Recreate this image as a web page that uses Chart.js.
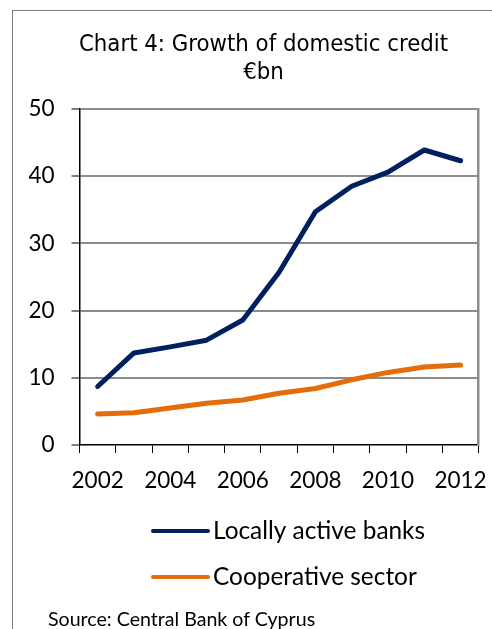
<!DOCTYPE html>
<html>
<head>
<meta charset="utf-8">
<script src="https://cdn.jsdelivr.net/npm/chart.js@4/dist/chart.umd.min.js"></script>
<style>
  html, body { margin: 0; padding: 0; background: #fff; overflow: hidden; }
  #wrap { position: relative; width: 492px; height: 629px; overflow: hidden; }
  #frame { position: absolute; left: 12px; top: 10px; width: 700px; height: 800px;
           border: 1px solid #7f7f7f; box-sizing: border-box; }
  #chart { position: absolute; left: 0; top: 0; }
  #source { position: absolute; left: 48px; top: 607px; font-family: Lato, sans-serif;
            font-size: 19.6px; color: #000; white-space: nowrap; }
</style>
</head>
<body>
<div id="wrap">
  <div id="frame"></div>
  <canvas id="chart" width="527" height="629"></canvas>
  <div id="source">Source: Central Bank of Cyprus</div>
</div>
<script>
// Domestic credit, € billion, end of year
const years = ['2002', '2003', '2004', '2005', '2006', '2007', '2008', '2009', '2010', '2011', '2012'];
const banks = [8.7, 13.7, 14.6, 15.6, 18.6, 25.7, 34.7, 38.5, 40.6, 43.9, 42.3];
const coop  = [4.6, 4.8, 5.5, 6.2, 6.7, 7.7, 8.4, 9.7, 10.8, 11.6, 11.9];
const yTicks = [0, 10, 20, 30, 40, 50];

const NAVY = '#002060';
const ORANGE = '#E46C0A';
const GRID = '#8c8c8c';

// Two stacked legend rows under the axis, left-aligned on a common start
const stackedLegend = {
  id: 'stackedLegend',
  afterDraw(chart) {
    const { ctx, chartArea } = chart;
    const rows = [86, 132];
    const x0 = 153, x1 = 208, tx = 213;
    ctx.save();
    ctx.font = '24.4px Lato, sans-serif';
    ctx.textBaseline = 'middle';
    ctx.textAlign = 'left';
    chart.data.datasets.forEach((ds, i) => {
      const y = chartArea.bottom + rows[i];
      ctx.strokeStyle = ds.borderColor;
      ctx.lineWidth = 4;
      ctx.lineCap = 'round';
      ctx.beginPath();
      ctx.moveTo(x0, y);
      ctx.lineTo(x1, y);
      ctx.stroke();
      ctx.fillStyle = '#000';
      ctx.fillText(ds.label, tx, y);
    });
    ctx.restore();
  }
};

new Chart(document.getElementById('chart'), {
  type: 'line',
  data: {
    labels: years,
    datasets: [
      { label: 'Locally active banks', data: banks, borderColor: NAVY, backgroundColor: NAVY,
        borderWidth: 5, pointRadius: 0, tension: 0, borderCapStyle: 'round', borderJoinStyle: 'round' },
      { label: 'Cooperative sector', data: coop, borderColor: ORANGE, backgroundColor: ORANGE,
        borderWidth: 5, pointRadius: 0, tension: 0, borderCapStyle: 'round', borderJoinStyle: 'round' }
    ]
  },
  plugins: [stackedLegend],
  options: {
    responsive: false,
    animation: false,
    devicePixelRatio: 1,
    layout: { padding: { left: 0, right: 0, top: 10, bottom: 0 } },
    plugins: {
      legend: { display: false },
      tooltip: { enabled: false },
      title: {
        display: true,
        text: ['Chart 4: Growth of domestic credit', '€bn'],
        color: '#000',
        font: { family: "'DejaVu Sans Condensed', 'DejaVu Sans', sans-serif", size: 23.7, weight: 'normal', lineHeight: 28 / 23.7 },
        padding: { top: 21, bottom: 22 }
      }
    },
    scales: {
      x: {
        type: 'category',
        offset: true,
        grid: { offset: true, drawOnChartArea: false, drawTicks: true, tickLength: 8, tickColor: '#000', tickWidth: 1 },
        border: { display: true, color: '#000', width: 1.5 },
        ticks: {
          autoSkip: false, maxRotation: 0, padding: 14, color: '#000',
          font: { family: 'Lato, sans-serif', size: 22.5 },
          callback: (v, i) => (i % 2 === 0 ? years[i] : '')
        },
        afterFit: s => { s.height = 184; }
      },
      y: {
        min: 0, max: 50,
        afterBuildTicks: s => { s.ticks = yTicks.map(v => ({ value: v })); },
        grid: {
          color: ctx => (ctx.tick && ctx.tick.value === 0 ? 'rgba(0,0,0,0)' : GRID),
          lineWidth: 2, tickLength: 8, tickColor: '#000', tickWidth: 1, drawTicks: true
        },
        border: { display: true, color: '#000', width: 1.5 },
        ticks: { padding: 17, color: '#000', font: { family: 'Lato, sans-serif', size: 22.5 } },
        afterFit: s => { s.width = 79.5; }
      },
      yRight: {
        position: 'right',
        min: 0, max: 50,
        grid: { drawOnChartArea: false, drawTicks: false },
        border: { display: true, color: GRID, width: 2.5 },
        ticks: { display: false },
        afterFit: s => { s.width = 48.3; }
      }
    }
  }
});
</script>
</body>
</html>
